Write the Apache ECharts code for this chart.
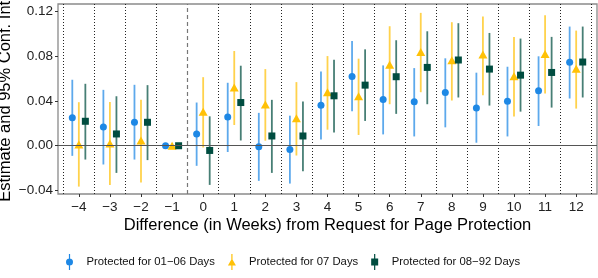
<!DOCTYPE html>
<html>
<head>
<meta charset="utf-8">
<script src="https://cdn.jsdelivr.net/npm/echarts@6/dist/echarts.min.js"></script>
<style>
html,body{margin:0;padding:0;background:#fff;}
#chart{width:598px;height:278px;}
</style>
</head>
<body>
<div id="chart"></div>
<script>
// ---- data ----
const weeks = [-4,-3,-2,-1,0,1,2,3,4,5,6,7,8,9,10,11,12];
const yTicks = [-0.04, 0, 0.04, 0.08, 0.12];
const seriesNames = ["Protected for 01\u221206 Days", "Protected for 07 Days", "Protected for 08\u221292 Days"];

const blueEst = [0.025, 0.0167, 0.0209, 0, 0.0105, 0.0257, -0.0009, -0.0033, 0.0361, 0.0618, 0.0412, 0.0391, 0.0474, 0.0337, 0.0397, 0.049, 0.0743];
const blueLo  = [-0.009, -0.0167, -0.0123, 0, -0.0179, -0.0056, -0.0313, -0.0337, 0.0056, 0.0307, 0.0101, 0.0083, 0.0164, 0.0027, 0.0083, 0.0176, 0.0421];
const blueHi  = [0.0588, 0.0498, 0.0543, 0, 0.0385, 0.0561, 0.0293, 0.0268, 0.0662, 0.0934, 0.0716, 0.0692, 0.0779, 0.0651, 0.0704, 0.0797, 0.1062];

const yellowEst = [0.001, 0.002, 0.0047, 0, 0.0304, 0.0519, 0.0367, 0.0244, 0.0477, 0.0441, 0.0722, 0.0835, 0.0761, 0.0812, 0.062, 0.0817, 0.0686];
const yellowLo  = [-0.0364, -0.035, -0.0328, 0, -0.0015, 0.0185, 0.0045, -0.0087, 0.0143, 0.0096, 0.037, 0.0477, 0.0403, 0.045, 0.026, 0.0465, 0.0331];
const yellowHi  = [0.0388, 0.039, 0.0409, 0, 0.0611, 0.0844, 0.0683, 0.0567, 0.0799, 0.0776, 0.1065, 0.1184, 0.1101, 0.1152, 0.0969, 0.1163, 0.1026];

const greenEst = [0.0218, 0.0105, 0.0209, 0, -0.0042, 0.0385, 0.0087, 0.0087, 0.0445, 0.054, 0.0615, 0.0698, 0.0764, 0.0683, 0.0629, 0.0653, 0.0746];
const greenLo  = [-0.0123, -0.0242, -0.0128, 0, -0.0349, 0.0047, -0.0242, -0.0227, 0.0119, 0.0221, 0.0284, 0.037, 0.043, 0.0358, 0.0304, 0.034, 0.043];
const greenHi  = [0.0552, 0.0441, 0.054, 0, 0.0262, 0.0713, 0.0409, 0.0394, 0.0767, 0.0859, 0.094, 0.102, 0.1092, 0.1005, 0.0955, 0.097, 0.1062];

// ---- styling ----
const colors = ["#1E88E5", "#FFC107", "#004D40"];
const dodge = [-0.21, 0, 0.21];
const symbols = ["circle", "triangle", "rect"];
const symbolSizes = [7, [9, 8], 7];
const legendIcons = [
  "path://M3.4,0H4.6V16H3.4Z M0.5,8A3.5,3.5 0 1 1 7.5,8A3.5,3.5 0 1 1 0.5,8Z",
  "path://M3.4,0H4.6V16H3.4Z M0,11.5L4,4.5L8,11.5Z",
  "path://M3.4,0H4.6V16H3.4Z M0.5,4.5H7.5V11.5H0.5Z"
];
const FONT = "'Liberation Sans', Arial, Helvetica, sans-serif";

const allEst = [blueEst, yellowEst, greenEst];
const allLo = [blueLo, yellowLo, greenLo];
const allHi = [blueHi, yellowHi, greenHi];

const minus = s => String(s).replace(/-/g, "\u2212");

// divider positions between weeks
const dividers = [weeks[0] - 0.5].concat(weeks.map(w => w + 0.5));

const refLines = {
  silent: true,
  symbol: "none",
  label: {show: false},
  animation: false,
  data: dividers.map(v => ({
    xAxis: v,
    lineStyle: v === -0.5
      ? {color: "#777", type: [4, 3], width: 1.2}
      : {color: "#222", type: [1, 2], width: 1}
  })).concat([{yAxis: 0, lineStyle: {color: "#555", type: "solid", width: 1.1}}])
};

const series = [];
// error bars
for (let s = 0; s < 3; s++) {
  const data = [];
  weeks.forEach((w, i) => {
    if (allHi[s][i] !== allLo[s][i]) data.push([w + dodge[s], allLo[s][i], allHi[s][i]]);
  });
  const col = colors[s];
  series.push({
    type: "custom",
    silent: true,
    z: 3,
    renderItem: function (params, api) {
      const x = api.value(0);
      const p1 = api.coord([x, api.value(1)]);
      const p2 = api.coord([x, api.value(2)]);
      return {
        type: "line",
        shape: {x1: p1[0], y1: p1[1], x2: p2[0], y2: p2[1]},
        style: {stroke: col, lineWidth: 1.8, opacity: 0.72}
      };
    },
    encode: {x: 0, y: [1, 2]},
    data: data
  });
}
// points
for (let s = 0; s < 3; s++) {
  const ser = {
    type: "scatter",
    name: seriesNames[s],
    symbol: symbols[s],
    symbolSize: symbolSizes[s],
    z: 4,
    itemStyle: {color: colors[s], opacity: 1},
    data: weeks.map((w, i) => [w + dodge[s], allEst[s][i]])
  };
  if (s === 0) ser.markLine = refLines;
  series.push(ser);
}

const chart = echarts.init(document.getElementById("chart"), null, {renderer: "canvas"});
chart.setOption({
  animation: false,
  backgroundColor: "#fff",
  grid: {left: 58, right: 1, top: 4, bottom: 84, outerBoundsMode: "none", containLabel: false,
         show: true, borderColor: "#8a8a8a", borderWidth: 1.3, backgroundColor: "transparent"},
  xAxis: {
    type: "value",
    position: "bottom",
    min: -4.67, max: 12.67,
    axisLine: {show: false, onZero: false},
    splitLine: {show: false},
    axisTick: {show: true, length: 3, lineStyle: {color: "#333"}, customValues: weeks},
    axisLabel: {customValues: weeks, formatter: v => minus(v), fontFamily: FONT, fontSize: 13.5, color: "#222", margin: 6},
    name: "Difference (in Weeks) from Request for Page Protection",
    nameLocation: "middle",
    nameGap: 23,
    nameMoveOverlap: false,
    nameTextStyle: {fontFamily: FONT, fontSize: 16.5, color: "#000"}
  },
  yAxis: {
    type: "value",
    position: "left",
    min: -0.043, max: 0.1263,
    axisLine: {show: false, onZero: false},
    splitLine: {show: false},
    axisTick: {show: true, length: 3, lineStyle: {color: "#333"}, customValues: yTicks},
    axisLabel: {customValues: yTicks, formatter: v => minus(v.toFixed(2)), fontFamily: FONT, fontSize: 13.5, color: "#222", margin: 5},
    name: "Estimate and 95% Conf. Int.",
    nameLocation: "middle",
    nameGap: 44,
    nameMoveOverlap: false,
    nameTextStyle: {fontFamily: FONT, fontSize: 16.5, color: "#000"}
  },
  legend: {
    left: 66, top: 254,
    padding: 0,
    itemWidth: 8, itemHeight: 16,
    itemGap: 13,
    textStyle: {fontFamily: FONT, fontSize: 11.3, color: "#111", padding: [0, 0, 0, 8]},
    data: seriesNames.map((n, s) => ({name: n, icon: legendIcons[s]}))
  },
  series: series
});
</script>
</body>
</html>
